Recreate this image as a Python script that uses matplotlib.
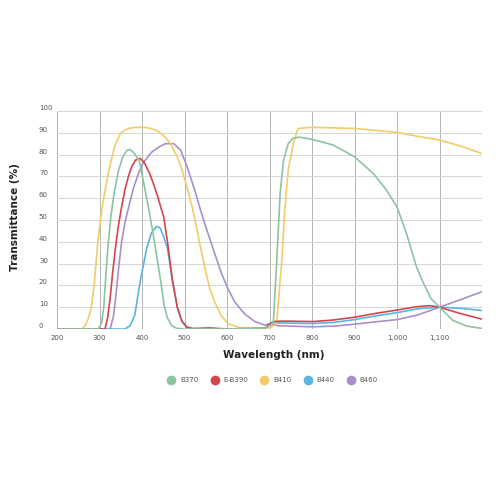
import matplotlib
matplotlib.use("Agg")
import matplotlib.pyplot as plt
from matplotlib.lines import Line2D

# wavelength (nm) / transmittance (%)
b370_x = [200, 296, 301, 305, 310, 315, 320, 327, 335, 345, 355, 365, 372, 380, 387, 394, 405, 415,
          425, 435, 444, 452, 460, 470, 482, 500, 600, 690, 700, 709, 717, 725, 733, 744, 755, 770,
          800, 850, 900, 944, 975, 1000, 1022, 1045, 1060, 1080, 1100, 1131, 1163, 1198]
b370_y = [0, 0, 1, 3, 10, 25, 38, 52, 63, 73, 79, 82, 82.3, 81, 79, 77, 66, 56,
          45, 33, 22, 11, 5, 1.5, 0.3, 0, 0, 0.3, 1.5, 3, 31, 62, 77.5, 85, 87.5, 88,
          87, 84.4, 79, 71.4, 63.8, 56, 44, 29, 22, 14, 10, 4, 1.4, 0.3]

eb390_x = [200, 313, 319, 325, 331, 338, 345, 352, 360, 368, 376, 385, 395, 405, 418, 428, 437, 444,
           451, 460, 471, 483, 494, 506, 520, 560, 600, 690, 700, 709, 725, 747, 802, 849, 900, 951,
           1000, 1045, 1077, 1100, 1147, 1198]
eb390_y = [0, 0, 5, 14, 26, 38, 48, 56, 64, 70, 74.5, 77.5, 78.3, 76.5, 71.4, 66, 60.7, 56,
           51.5, 40, 23, 10, 3.5, 0.8, 0.2, 0.5, 0, 0.3, 2.3, 3.4, 3.6, 3.6, 3.4, 4.1, 5.4, 7.2,
           8.7, 10.2, 10.7, 10, 7.2, 4.6]

b410_x = [200, 258, 266, 274, 281, 288, 295, 301, 309, 321, 336, 350, 367, 385, 405, 421, 435, 444,
          457, 467, 483, 494, 506, 518, 526, 535, 548, 560, 572, 587, 602, 626, 650, 700, 709, 717,
          729, 736, 744, 756, 767, 800, 900, 1000, 1045, 1100, 1155, 1198]
b410_y = [0, 0, 1.5, 5, 10, 21, 38, 48, 59, 72, 84, 90, 92, 92.5, 92.5, 92, 91, 89.8,
          87.5, 85, 79, 73, 65, 56, 49, 40, 28, 18, 12, 6, 2.5, 0.8, 0.5, 0.5, 1.5, 3,
          31.6, 54.6, 73, 85, 92, 92.5, 92, 90.2, 88.5, 86.7, 83.6, 80.6]

b440_x = [200, 360, 372, 383, 395, 411, 422, 434, 442, 450, 460, 471, 483, 494, 506, 520, 600, 690,
          700, 720, 800, 850, 900, 950, 1000, 1050, 1100, 1150, 1198]
b440_y = [0, 0, 1.5, 6.4, 21, 37, 44, 47, 46.5, 43, 37, 23, 10, 3.5, 0.8, 0.2, 0, 0.3,
          2.3, 2.8, 2.5, 3, 4.3, 6, 7.5, 9.3, 10, 9.5, 8.5]

b460_x = [200, 325, 333, 339, 345, 352, 360, 370, 379, 391, 402, 422, 440, 455, 475, 491, 506, 522,
          537, 545, 555, 571, 587, 600, 618, 641, 665, 688, 700, 720, 800, 850, 900, 950, 1000,
          1050, 1100, 1150, 1198]
b460_y = [0, 0, 6, 16, 28, 40, 49, 57, 64, 71, 76, 81, 83.5, 85, 85, 82, 74.5, 65,
          55, 50, 44, 34.7, 25.5, 19.4, 12.5, 7, 3.5, 1.8, 2.3, 1.5, 1, 1.3, 2.2, 3.3, 4.3,
          6.5, 10, 13.5, 17]

labels = ["B370", "E-B390", "B410", "B440", "B460"]
colors = ["#8cc4a2", "#d4454f", "#f2cb6b", "#5ab6e0", "#a88fc9"]

fig = plt.figure(figsize=(5, 5), dpi=100)
ax = fig.add_axes([0.114, 0.342, 0.85, 0.436])

# drawing order: purple at the back, green on top
series = [(b460_x, b460_y), (b440_x, b440_y), (b410_x, b410_y), (eb390_x, eb390_y), (b370_x, b370_y)]
cols = [colors[4], colors[3], colors[2], colors[1], colors[0]]
for (xs, ys), c in zip(series, cols):
    ax.plot(xs, ys, color=c, linewidth=1.2, solid_joinstyle="round", zorder=3)

ax.set_xlim(200, 1200)
ax.set_ylim(0, 100)
ax.set_xticks(range(200, 1101, 100))
ax.set_xticklabels(["200", "300", "400", "500", "600", "700", "800", "900", "1,000", "1,100"])
ax.set_yticks(range(0, 101, 10))
for s in ax.spines.values():
    s.set_visible(False)
for v in range(200, 1101, 100):
    ax.axvline(v, color="#b4b4b4", linewidth=0.7, zorder=1)
for h in range(0, 101, 10):
    ax.axhline(h, color="#d6d6d6", linewidth=0.7, zorder=1)
ax.tick_params(axis="both", length=0, labelsize=5, labelcolor="#555555")
ax.tick_params(axis="x", pad=4)
ax.tick_params(axis="y", pad=13)
plt.setp(ax.get_yticklabels(), ha="left", va="bottom")

fig.text(0.03, 0.566, "Transmittance (%)", rotation=90, ha="center", va="center",
         fontsize=7.5, fontweight="bold", color="#222222")
fig.text(0.548, 0.29, "Wavelength (nm)", ha="center", va="center",
         fontsize=7.5, fontweight="bold", color="#222222")

handles = [Line2D([], [], marker="o", linestyle="none", markersize=6,
                  markerfacecolor=c, markeredgecolor=c) for c in colors]
fig.legend(handles, labels, loc="center", bbox_to_anchor=(0.542, 0.24), ncol=5,
           frameon=False, fontsize=5, handletextpad=0.3, columnspacing=1.3,
           labelcolor="#555555")

fig.savefig("out.png", dpi=100, facecolor="white")
